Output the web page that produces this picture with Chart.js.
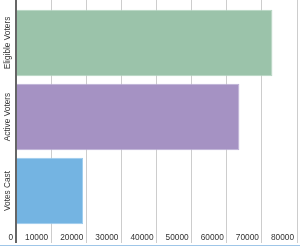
<!DOCTYPE html>
<html>
<head>
<meta charset="utf-8">
<script src="https://cdn.jsdelivr.net/npm/chart.js@4/dist/chart.umd.min.js"></script>
<style>
  html, body { margin: 0; padding: 0; background: #fff; }
  #wrap { position: relative; width: 300px; height: 245px; border-bottom: 1px solid #9fc6e8; }
</style>
</head>
<body>
<div id="wrap"><canvas id="c"></canvas></div>
<script>
const categories = ["Eligible Voters", "Active Voters", "Votes Cast"];
const values = [73000, 63600, 19100];
const barColors = ["#9bc3aa", "#a592c3", "#74b4e2"];
const barBorders = ["#b4d5c1", "#bcaed6", "#9ccbee"];
const axisMin = 0;
const axisMax = 80000;
const axisStep = 10000;

const FAMILY = "'Liberation Sans', Arial, sans-serif";
const SIZE = 8.3;
const FONT = { family: FAMILY, size: SIZE };

// measure widest category label so rotated labels can be centred at x≈7.5
const mctx = document.createElement('canvas').getContext('2d');
mctx.font = SIZE + 'px ' + FAMILY;
const widest = Math.max(...categories.map(t => mctx.measureText(t).width));
const yPad = 16 - 7.5 - widest / 2;

const gridColor = (ctx) => (ctx.tick && ctx.tick.value === 0) ? '#666666' : '#cdcdcd';
const gridWidth = (ctx) => (ctx.tick && ctx.tick.value === 0) ? 2 : 1;

new Chart(document.getElementById('c'), {
  type: 'bar',
  data: {
    labels: categories,
    datasets: [{
      data: values,
      backgroundColor: barColors,
      borderColor: barBorders,
      borderWidth: 1,
      barPercentage: 0.9,
      categoryPercentage: 1.0
    }]
  },
  options: {
    indexAxis: 'y',
    responsive: true,
    maintainAspectRatio: false,
    animation: false,
    layout: { padding: { top: 0, right: 3, bottom: 1, left: 0 } },
    plugins: { legend: { display: false }, tooltip: { enabled: false } },
    scales: {
      x: {
        type: 'linear',
        position: 'bottom',
        min: axisMin, max: axisMax,
        border: { display: false },
        grid: { color: gridColor, lineWidth: gridWidth, tickLength: 15 },
        ticks: {
          stepSize: axisStep,
          align: 'end',
          labelOffset: -3,
          padding: -10,
          maxRotation: 0, minRotation: 0,
          color: '#333',
          font: FONT,
          callback: (v) => String(v)
        },
        afterFit: (s) => { s.height = 16; }
      },
      x2: {
        type: 'linear',
        position: 'top',
        min: axisMin, max: axisMax,
        border: { display: false },
        grid: { color: gridColor, lineWidth: gridWidth, tickLength: 6, drawOnChartArea: false },
        ticks: { stepSize: axisStep, display: false }
      },
      y: {
        type: 'category',
        position: 'left',
        border: { display: false },
        grid: { display: false, drawTicks: false },
        ticks: {
          minRotation: 90, maxRotation: 90,
          crossAlign: 'center',
          padding: yPad,
          color: '#333',
          font: FONT
        },
        afterFit: (s) => { s.width = 16; }
      }
    }
  }
});
</script>
</body>
</html>
